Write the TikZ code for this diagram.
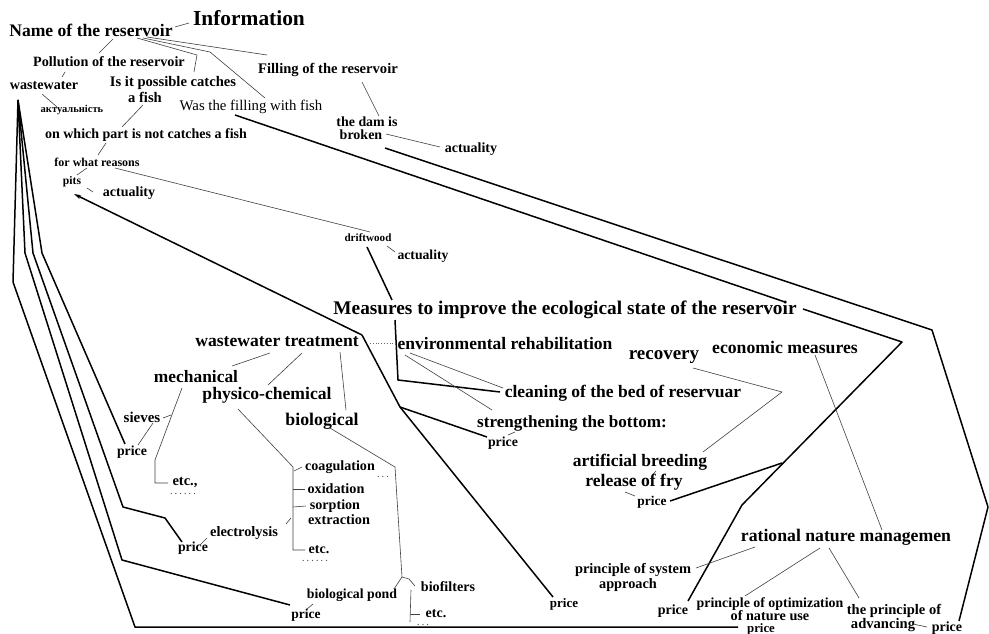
\documentclass[tikz,border=0pt]{standalone}
\usepackage{fontspec}
\setmainfont{Liberation Serif}
\usetikzlibrary{arrows.meta}
\begin{document}
\begin{tikzpicture}[x=1pt,y=-1pt,
 txt/.style={inner sep=0pt,font=\fontsize{#1}{#1}\selectfont\bfseries},
 rtxt/.style={inner sep=0pt,font=\fontsize{#1}{#1}\selectfont},
 dots/.style={inner sep=0pt,text=black!70,font=\fontsize{8}{8}\selectfont\bfseries},
 heavy/.style={line width=1.5pt,black,line join=round},
 thinl/.style={line width=0.6pt,black!75,line join=round},
 dotl/.style={line width=0.8pt,black!60,dotted}]
\useasboundingbox (0,0) rectangle (989,634);
\fill[white] (0,0) rectangle (989,634);
% ---------- nodes ----------
\node[txt=21.4] (info) at (249,18) {Information};
\node[txt=17.6] (name) at (91,30) {Name of the reservoir};
\node[txt=14.2] (poll) at (109,62) {Pollution of the reservoir};
\node[txt=14.1] (ww) at (44,86) {wastewater};
\node[txt=10.5] (akt) at (72,110) {актуальність};
\node[txt=14.6] (isit) at (173,83) {Is it possible catches};
\node[txt=14.6] (afish) at (145,97) {a fish};
\node[rtxt=14.8] (wasfill) at (251,107) {Was the filling with fish};
\node[txt=14.6] (filling) at (328,70) {Filling of the reservoir};
\node[txt=14] (onwhich) at (146,135) {on which part is not catches a fish};
\node[txt=12] (forwhat) at (97,162) {for what reasons};
\node[txt=11.6] (pits) at (72,182) {pits};
\node[txt=14] (act1) at (129,193) {actuality};
\node[txt=13.9] (dam) at (367,122) {the dam is};
\node[txt=14] (broken) at (361,135) {broken};
\node[txt=14] (act2) at (471,149) {actuality};
\node[txt=11.1] (drift) at (368,238) {driftwood};
\node[txt=13.7] (act3) at (423,256) {actuality};
\node[txt=19.3] (meas) at (565,310) {Measures to improve the ecological state of the reservoir};
\node[txt=17.6] (wwt) at (277,342) {wastewater treatment};
\node[txt=17.5] (env) at (505,344) {environmental rehabilitation};
\node[txt=17.5] (clean) at (623,393) {cleaning of the bed of reservuar};
\node[txt=17.1] (strength) at (572,423) {strengthening the bottom:};
\node[txt=13.8] (price1) at (503,443) {price};
\node[txt=19] (recov) at (664,357) {recovery};
\node[txt=17.7] (econ) at (785,347) {economic measures};
\node[txt=17.5] (artif) at (640,462) {artificial breeding};
\node[txt=17.6] (release) at (634,482) {release of fry};
\node[txt=13.4] (price2) at (652,502) {price};
\node[txt=17.7] (rational) at (846,537) {rational nature managemen};
\node[txt=14.4] (system) at (633,570) {principle of system};
\node[txt=14.3] (approach) at (628,585) {approach};
\node[txt=13] (price3) at (564,604) {price};
\node[txt=14] (price4) at (673,611) {price};
\node[txt=13.9] (optim) at (770,604) {principle of optimization};
\node[txt=14.2] (natuse) at (770,616) {of nature use};
\node[txt=12.8] (price5) at (761,629) {price};
\node[txt=14.5] (theprin) at (894,611) {the principle of};
\node[txt=14.6] (advancing) at (883,625) {advancing};
\node[txt=14] (price6) at (947,628) {price};
\node[txt=17.4] (mech) at (196,377) {mechanical};
\node[txt=17.6] (phys) at (267,395) {physico-chemical};
\node[txt=17.8] (bio) at (322,421) {biological};
\node[txt=15] (sieves) at (142,417) {sieves};
\node[txt=13.8] (price7) at (132,452) {price};
\node[txt=14.5] (etc1) at (185,483) {etc.,};
\node[dots] (dots1) at (183,494) {. . . . . .};
\node[txt=14.4] (elec) at (244,533) {electrolysis};
\node[txt=13.8] (price8) at (193,548) {price};
\node[txt=14.1] (coag) at (340,467) {coagulation};
\node[dots] (dots2) at (383,477) {. . .};
\node[txt=14.2] (oxid) at (336,489) {oxidation};
\node[txt=14.1] (sorp) at (335,506) {sorption};
\node[txt=14.3] (extr) at (339,520) {extraction};
\node[txt=14] (etc2) at (319,550) {etc.};
\node[dots] (dots3) at (315,561) {. . . . . .};
\node[txt=13.8] (biopond) at (352,595) {biological pond};
\node[txt=13.5] (price9) at (306,615) {price};
\node[txt=14.1] (biofil) at (448,587) {biofilters};
\node[txt=14] (etc3) at (436,614) {etc.};
\node[dots] (dots4) at (423,625) {. . .};
% ---------- coordinates ----------
\coordinate (a1) at (175,27); \coordinate (a2) at (189,23);
\coordinate (b1) at (113,39); \coordinate (b2) at (99,53);
\coordinate (c1) at (65,72); \coordinate (c2) at (62,77);
\coordinate (d1) at (42,94); \coordinate (d2) at (57,107);
\coordinate (e1) at (137,38); \coordinate (e2) at (197,55); \coordinate (e3) at (194,72);
\coordinate (f1) at (143,38); \coordinate (f2) at (210,52); \coordinate (f3) at (265,98);
\coordinate (g1) at (147,37); \coordinate (g2) at (267,55);
\coordinate (h1) at (143,105); \coordinate (h2) at (122,127);
\coordinate (i1) at (106,143); \coordinate (i2) at (98,155);
\coordinate (j1) at (87,168); \coordinate (j2) at (77,175);
\coordinate (k1) at (87,188); \coordinate (k2) at (93,192);
\coordinate (l1) at (115,168); \coordinate (l2) at (370,232);
\coordinate (m1) at (362,82); \coordinate (m2) at (379,116);
\coordinate (n1) at (386,134); \coordinate (n2) at (440,147);
\coordinate (o1) at (387,246); \coordinate (o2) at (395,252);
\coordinate (q1) at (367,247); \coordinate (q2) at (392,300);
\coordinate (r1) at (395,320); \coordinate (r2) at (398,380); \coordinate (r3) at (500,392);
\coordinate (s1) at (370,343); \coordinate (s2) at (398,343);
\coordinate (t1) at (410,353); \coordinate (t2) at (503,388);
\coordinate (u1) at (405,355); \coordinate (u2) at (492,410);
\coordinate (v1) at (508,435); \coordinate (v2) at (515,432);
\coordinate (w1) at (693,368); \coordinate (w2) at (782,392); \coordinate (w3) at (703,452);
\coordinate (x1) at (656,471); \coordinate (x2) at (653,474);
\coordinate (y1) at (625,492); \coordinate (y2) at (635,496);
\coordinate (z1) at (670,501); \coordinate (z2) at (782,463);
% line A
\coordinate (A0) at (235,115); \coordinate (A1) at (785,302);
\coordinate (A2) at (803,309); \coordinate (A3) at (902,342);
\coordinate (A4) at (742,505); \coordinate (A5) at (688,601);
% line B
\coordinate (B0) at (385,148); \coordinate (B1) at (932,330);
\coordinate (B2) at (988,507); \coordinate (B3) at (959,621);
\coordinate (C1) at (815,355); \coordinate (C2) at (882,530);
\coordinate (D1) at (696,568); \coordinate (D2) at (755,547);
\coordinate (E1) at (820,548); \coordinate (E2) at (745,596);
\coordinate (F1) at (829,548); \coordinate (F2) at (859,598);
\coordinate (G1) at (913,624); \coordinate (G2) at (927,627);
% arrow line
\coordinate (H0) at (553,597); \coordinate (H1) at (400,407);
\coordinate (H2) at (362,335); \coordinate (H3) at (74,194);
\coordinate (H4) at (487,437);
% wastewater treatment branches
\coordinate (I1) at (270,353); \coordinate (I2) at (232,366);
\coordinate (J1) at (302,353); \coordinate (J2) at (268,385);
\coordinate (K1) at (340,352); \coordinate (K2) at (346,410);
\coordinate (M1) at (182,388); \coordinate (M2) at (155,460);
\coordinate (M3) at (155,483); \coordinate (M4) at (168,483);
\coordinate (N1) at (163,418); \coordinate (N2) at (171,415);
\coordinate (O1) at (153,423); \coordinate (O2) at (138,445);
% left bundle
\coordinate (apex) at (18,100);
\coordinate (L4a) at (42,253); \coordinate (L4b) at (125,444);
\coordinate (L3a) at (33,253); \coordinate (L3b) at (123,507);
\coordinate (L3c) at (165,518); \coordinate (L3d) at (182,542);
\coordinate (L2a) at (25,253); \coordinate (L2b) at (122,560);
\coordinate (L2c) at (290,605);
\coordinate (L1a) at (13,282); \coordinate (L1b) at (135,627);
\coordinate (L1c) at (738,627);
\coordinate (P1) at (200,545); \coordinate (P2) at (207,538);
% physico-chemical
\coordinate (Q1) at (238,409); \coordinate (Q2) at (293,467);
\coordinate (Q3) at (293,550); \coordinate (Q4) at (305,550);
\coordinate (Q5) at (294,471); \coordinate (Q6) at (302,467);
\coordinate (Q7) at (293,489); \coordinate (Q8) at (305,489);
\coordinate (Q9) at (293,507); \coordinate (Q10) at (306,506);
\coordinate (Q11) at (286,524); \coordinate (Q12) at (291,518);
% biological
\coordinate (R1) at (330,428); \coordinate (R2) at (395,467);
\coordinate (R3) at (402,577); \coordinate (R4) at (394,589);
\coordinate (R5) at (409,579); \coordinate (R6) at (415,586);
\coordinate (R7) at (411,590); \coordinate (R8) at (410,622);
\coordinate (R9) at (411,614); \coordinate (R10) at (420,614);
\coordinate (S1) at (313,604); \coordinate (S2) at (307,609);
% ---------- connectors ----------
\draw[thinl] (a1)--(a2);
\draw[thinl] (b1)--(b2);
\draw[thinl] (c1)--(c2);
\draw[thinl] (d1)--(d2);
\draw[thinl] (e1)--(e2)--(e3);
\draw[thinl] (f1)--(f2)--(f3);
\draw[thinl] (g1)--(g2);
\draw[thinl] (h1)--(h2);
\draw[thinl] (i1)--(i2);
\draw[thinl] (j1)--(j2);
\draw[thinl] (k1)--(k2);
\draw[thinl] (l1)--(l2);
\draw[thinl] (m1)--(m2);
\draw[thinl] (n1)--(n2);
\draw[thinl] (o1)--(o2);
\draw[heavy] (q1)--(q2);
\draw[heavy] (r1)--(r2)--(r3);
\draw[dotl] (s1)--(s2);
\draw[thinl] (t1)--(t2);
\draw[thinl] (u1)--(u2);
\draw[thinl] (v1)--(v2);
\draw[thinl] (w1)--(w2)--(w3);
\draw[thinl] (x1)--(x2);
\draw[thinl] (y1)--(y2);
\draw[heavy] (z1)--(z2);
\draw[heavy] (A0)--(A1);
\draw[heavy] (A2)--(A3)--(A4)--(A5);
\draw[heavy] (B0)--(B1)--(B2)--(B3);
\draw[thinl] (C1)--(C2);
\draw[thinl] (D1)--(D2);
\draw[thinl] (E1)--(E2);
\draw[thinl] (F1)--(F2);
\draw[thinl] (G1)--(G2);
\draw[heavy] (H0)--(H1)--(H2);
\draw[heavy,-{Stealth[length=7pt,width=4pt]}] (H2)--(H3);
\draw[heavy] (H1)--(H4);
\draw[thinl] (I1)--(I2);
\draw[thinl] (J1)--(J2);
\draw[thinl] (K1)--(K2);
\draw[thinl] (M1)--(M2)--(M3)--(M4);
\draw[thinl] (N1)--(N2);
\draw[thinl] (O1)--(O2);
\draw[heavy] (apex)--(L4a)--(L4b);
\draw[heavy] (apex)--(L3a)--(L3b)--(L3c)--(L3d);
\draw[heavy] (apex)--(L2a)--(L2b)--(L2c);
\draw[heavy] (apex)--(L1a)--(L1b)--(L1c);
\draw[thinl] (P1)--(P2);
\draw[thinl] (Q1)--(Q2)--(Q3)--(Q4);
\draw[thinl] (Q5)--(Q6);
\draw[thinl] (Q7)--(Q8);
\draw[thinl] (Q9)--(Q10);
\draw[thinl] (Q11)--(Q12);
\draw[thinl] (R1)--(R2)--(R3)--(R4);
\draw[thinl] (R3)--(R5)--(R6);
\draw[thinl] (R7)--(R8);
\draw[thinl] (R9)--(R10);
\draw[thinl] (S1)--(S2);
\end{tikzpicture}
\end{document}
